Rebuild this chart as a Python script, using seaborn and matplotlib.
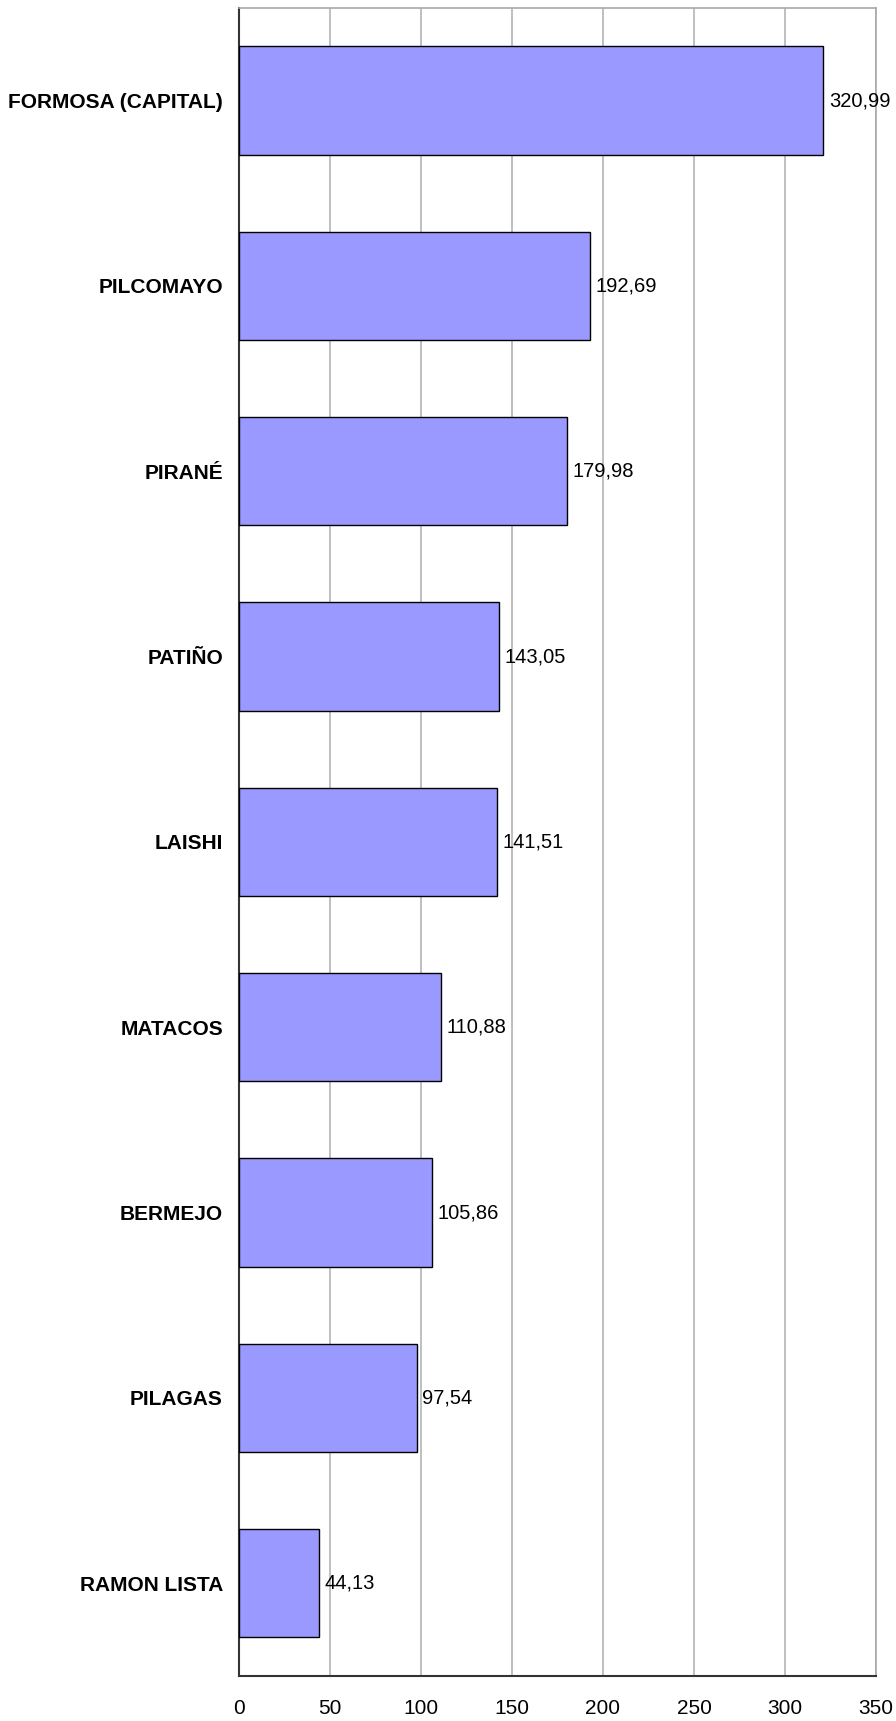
import matplotlib
matplotlib.use("Agg")
import matplotlib.pyplot as plt
import seaborn as sns
import pandas as pd
import numpy as np

# data
departamentos = ["FORMOSA (CAPITAL)", "PILCOMAYO", "PIRANÉ", "PATIÑO", "LAISHI",
                 "MATACOS", "BERMEJO", "PILAGAS", "RAMON LISTA"]
valores = [320.99, 192.69, 179.98, 143.05, 141.51, 110.88, 105.86, 97.54, 44.13]
x_ticks = [0, 50, 100, 150, 200, 250, 300, 350]

df = pd.DataFrame({"departamento": departamentos, "valor": valores})

sns.set_style("white")
plt.rcParams["font.family"] = ["Liberation Sans", "DejaVu Sans"]
plt.rcParams["text.color"] = "black"
plt.rcParams["xtick.color"] = "black"
plt.rcParams["ytick.color"] = "black"

fig = plt.figure(figsize=(8.96, 17.21), dpi=100)
ax = fig.add_axes([0.2667, 0.0262, 0.7110, 0.9692])

sns.barplot(data=df, x="valor", y="departamento", orient="h", color="#9999FF",
            saturation=1, width=0.585, edgecolor="black", linewidth=1.0, ax=ax, zorder=3)

# value labels with comma decimals
etiquetas = [f"{v:.2f}".replace(".", ",") for v in valores]
ax.bar_label(ax.containers[0], labels=etiquetas, padding=4, fontsize=14.5, color="black")

ax.set_xlim(0, 350)
ax.set_ylim(len(departamentos) - 0.5, -0.5)
ax.set_xticks(x_ticks)
ax.set_xticklabels([str(t) for t in x_ticks], fontsize=15)
ax.tick_params(axis="x", direction="out", length=4.5, width=1, color="#333333", pad=12)

ax.set_yticks(range(len(departamentos)))
ax.set_yticklabels(departamentos, fontsize=15, fontweight="bold")
ax.tick_params(axis="y", which="major", length=0, pad=11.5)
ax.set_yticks(np.arange(-0.5, len(departamentos), 1.0), minor=True)
ax.tick_params(axis="y", which="minor", direction="out", length=4.5, width=1, color="#333333")

ax.xaxis.grid(True, color="#b4b4b4", linewidth=1.2, zorder=0)
ax.yaxis.grid(False)
ax.set_axisbelow(True)

ax.set_xlabel("")
ax.set_ylabel("")

for side in ["top", "right"]:
    ax.spines[side].set_color("#a8a8a8")
    ax.spines[side].set_linewidth(1.2)
for side in ["left", "bottom"]:
    ax.spines[side].set_color("#333333")
    ax.spines[side].set_linewidth(1.5)

fig.savefig("out.png", dpi=100)
